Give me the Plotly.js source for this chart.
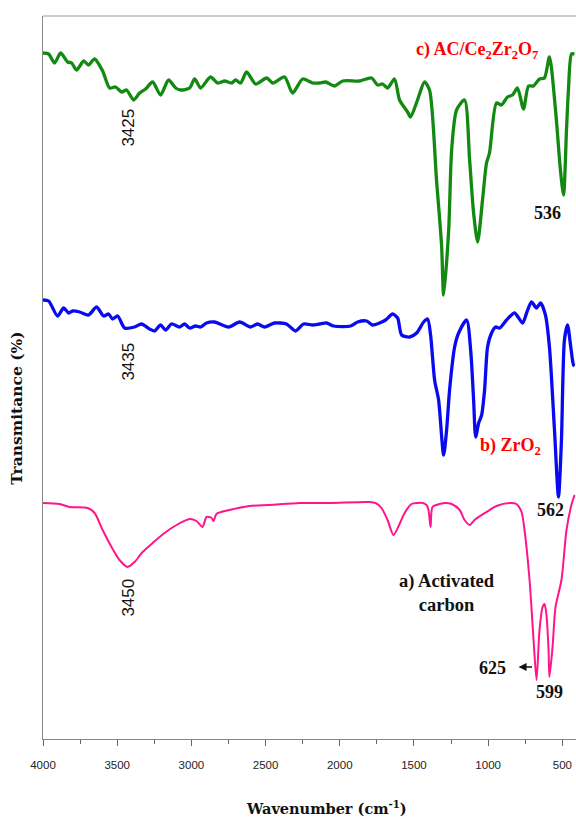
<!DOCTYPE html>
<html>
<head>
<meta charset="utf-8">
<script src="https://cdn.plot.ly/plotly-3.0.1.min.js"></script>
<style>
  html, body { margin: 0; padding: 0; background: #fff; overflow: hidden; }
  #chart { width: 576px; height: 819px; }
</style>
</head>
<body>
<div id="chart"></div>
<script>
// ---- Data (wavenumber in cm^-1, transmittance in arbitrary offset units) ----
// c) AC/Ce2Zr2O7
const wnC = [4000,3962,3922,3881,3834,3807,3774,3726,3693,3652,3598,3551,3511,3470,3437,3389,3349,3309,3261,3208,3154,3106,3073,3012,2978,2938,2871,2823,2776,2729,2702,2668,2628,2567,2493,2452,2372,2318,2250,2183,2136,2095,2035,1981,1867,1786,1745,1711,1678,1631,1597,1543,1523,1476,1429,1395,1348,1314,1300,1266,1246,1213,1159,1125,1098,1071,1038,1011,991,944,910,870,836,802,762,728,695,654,621,587,546,513,492,472,459,438,418];
const tC  = [686,685,676,686,677,676,669,678,674,680,668,651,652,647,649,639,646,650,657,644,659,651,649,651,660,651,662,656,658,656,659,656,667,655,661,656,662,646,660,656,656,657,653,658,658,661,654,655,651,660,639,627,622,639,657,649,559,494,444,509,589,629,639,579,526,497,539,576,586,636,634,642,644,651,630,653,653,660,661,682,629,569,544,609,649,685,685];

// b) ZrO2
const wnB = [4000,3962,3902,3861,3827,3800,3753,3693,3639,3592,3558,3531,3497,3450,3383,3336,3282,3248,3208,3174,3134,3080,3046,3012,2972,2938,2898,2844,2749,2675,2601,2554,2507,2440,2359,2298,2244,2183,2136,2089,2041,1927,1880,1819,1779,1732,1691,1644,1610,1583,1529,1482,1435,1408,1388,1361,1334,1300,1280,1260,1226,1199,1145,1118,1098,1084,1064,1044,1024,1004,977,950,923,876,822,768,741,708,674,647,614,587,553,526,506,486,465,445,425,418];
const tB  = [439,438,423,431,426,428,427,424,432,423,425,420,423,411,412,415,410,408,414,409,415,412,415,411,413,412,416,417,412,417,412,415,412,416,415,408,415,414,415,416,413,413,417,418,414,416,419,425,421,404,402,406,417,420,404,359,339,284,309,349,392,406,419,389,339,302,316,324,349,392,406,412,411,419,426,416,426,437,431,436,424,392,309,242,299,399,414,394,374,373];

// a) Activated carbon
const wnA = [4000,3888,3821,3699,3652,3598,3538,3484,3430,3383,3329,3261,3181,3100,3012,2966,2925,2898,2864,2851,2831,2743,2608,2473,2271,2069,1800,1759,1719,1678,1638,1597,1563,1516,1476,1442,1415,1402,1388,1375,1327,1287,1246,1192,1159,1125,1092,1011,944,856,809,775,755,721,694,674,654,633,620,607,593,587,566,546,506,472,439,418];
const tA  = [236,235,232,231,226,209,192,179,172,177,187,196,206,214,220,218,212,222,221,218,225,229,233,234,236,236,237,236,231,219,204,215,226,235,236,236,234,229,212,232,235,236,235,229,219,214,219,227,233,236,235,227,209,159,99,59,109,132,135,124,89,62,92,132,159,209,234,244];

const xTickVals = [4000,3500,3000,2500,2000,1500,1000,500];
const xTickText = ["4000","3500","3000","2500","2000","1500","1000","500"];

const seriesNames = ["a) Activated carbon", "b) ZrO2", "c) AC/Ce2Zr2O7"];

// ---- Traces ----
const traces = [
  { x: wnA, y: tA, name: seriesNames[0], mode: "lines",
    line: { color: "#ff148c", width: 2, shape: "spline", smoothing: 0.7 } },
  { x: wnB, y: tB, name: seriesNames[1], mode: "lines",
    line: { color: "#0a0af0", width: 3.3, shape: "spline", smoothing: 0.7 } },
  { x: wnC, y: tC, name: seriesNames[2], mode: "lines",
    line: { color: "#128a12", width: 3.3, shape: "spline", smoothing: 0.7 } }
];

const numFont = { family: "Liberation Sans, Arial, sans-serif", size: 17, color: "#111" };
const serifBold = { family: "Liberation Serif, Times New Roman, serif", size: 18, color: "#111", weight: "bold" };
const redFont = { family: "Liberation Serif, Times New Roman, serif", size: 18, color: "#ff0000", weight: "bold" };

const annotations = [
  { x: 3430, y: 611, xref: "x", yref: "y", text: "3425", textangle: -90, showarrow: false, font: numFont },
  { x: 3430, y: 377, xref: "x", yref: "y", text: "3435", textangle: -90, showarrow: false, font: numFont },
  { x: 3430, y: 141, xref: "x", yref: "y", text: "3450", textangle: -90, showarrow: false, font: numFont },
  { x: 1078, y: 689, xref: "x", yref: "y", text: "c) AC/Ce<sub>2</sub>Zr<sub>2</sub>O<sub>7</sub>", showarrow: false, font: redFont },
  { x: 600, y: 526, xref: "x", yref: "y", text: "536", showarrow: false, font: serifBold },
  { x: 849, y: 293, xref: "x", yref: "y", text: "b) ZrO<sub>2</sub>", showarrow: false, font: redFont },
  { x: 579, y: 229, xref: "x", yref: "y", text: "562", showarrow: false, font: serifBold },
  { x: 1280, y: 146, xref: "x", yref: "y", text: "a) Activated<br>carbon", showarrow: false,
    font: { family: "Liberation Serif, Times New Roman, serif", size: 18.5, color: "#111", weight: 600 } },
  { x: 970, y: 71, xref: "x", yref: "y", text: "625", showarrow: false, font: serifBold },
  { x: 586, y: 47, xref: "x", yref: "y", text: "599", showarrow: false, font: serifBold },
  { x: 795, y: 72, xref: "x", yref: "y", text: "", showarrow: true, ax: 15, ay: 0,
    arrowhead: 2, arrowsize: 1, arrowwidth: 1.6, arrowcolor: "#111" },
  // axis titles
  { x: 0.531, y: -0.0954, xref: "paper", yref: "paper", text: "Wavenumber (cm<sup>-1</sup>)", showarrow: false,
    xanchor: "center", yanchor: "middle",
    font: { family: "DejaVu Serif, serif", size: 14.5, color: "#111", weight: "bold" } },
  { x: -0.0488, y: 0.458, xref: "paper", yref: "paper", text: "Transmitance (%)", showarrow: false,
    textangle: -90, xanchor: "center", yanchor: "middle",
    font: { family: "DejaVu Serif, serif", size: 15.5, color: "#111", weight: "bold" } }
];

const layout = {
  width: 576, height: 819,
  margin: { l: 43, r: 0, t: 16, b: 80, pad: 0 },
  paper_bgcolor: "#fff", plot_bgcolor: "#fff",
  showlegend: false,
  xaxis: {
    range: [4000, 408], autorange: false,
    showgrid: false, zeroline: false,
    showline: true, linecolor: "#888", linewidth: 1,
    ticks: "outside", ticklen: 6, tickcolor: "#666", tickwidth: 1,
    ticklabelstandoff: 9,
    tickvals: xTickVals, ticktext: xTickText,
    tickfont: { family: "Liberation Sans, Arial, sans-serif", size: 11.5, color: "#222" },
    minor: { ticks: "outside", ticklen: 4, tickcolor: "#666", dtick: 250, tick0: 0, showgrid: false }
  },
  yaxis: {
    range: [0, 723], autorange: false,
    showgrid: false, zeroline: false,
    showline: true, linecolor: "#888", linewidth: 1,
    showticklabels: false, ticks: ""
  },
  shapes: [
    { type: "line", xref: "paper", yref: "paper", x0: 0, x1: 1, y0: 1, y1: 1,
      line: { color: "#999", width: 1 } }
  ],
  annotations: annotations
};

Plotly.newPlot("chart", traces, layout, { displayModeBar: false, staticPlot: true });
</script>
</body>
</html>
